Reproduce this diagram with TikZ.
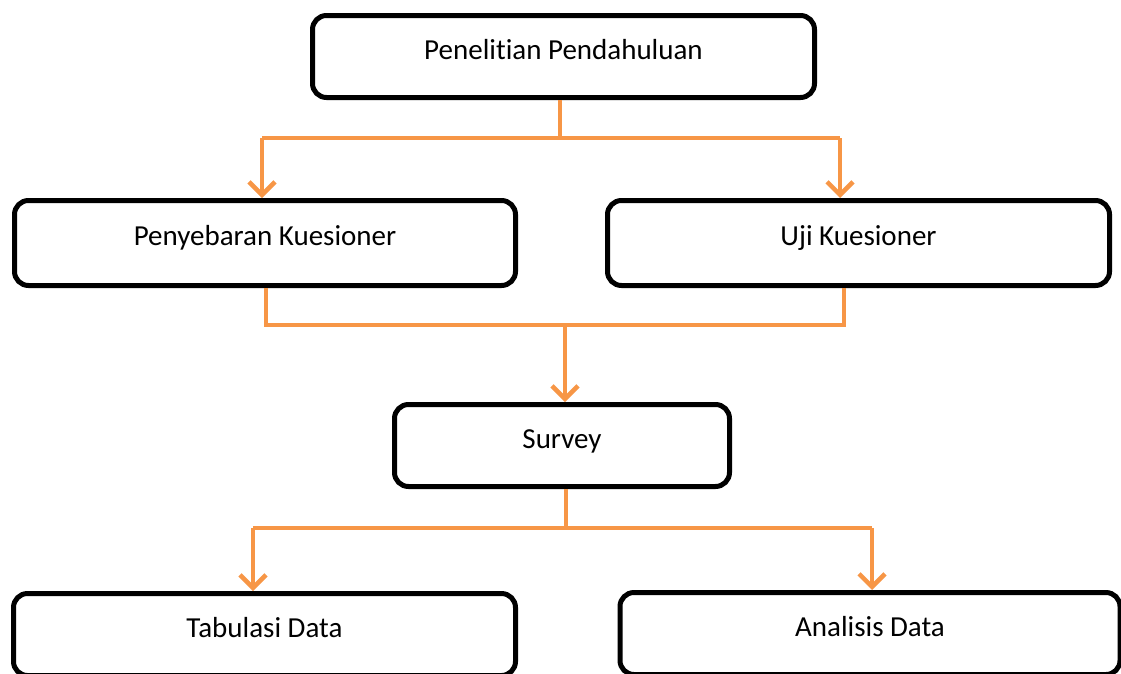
\documentclass[tikz,border=0pt]{standalone}
\usepackage{fontspec}
\setmainfont{Carlito}[RawFeature=-liga]
\usepackage{tikz}
\usetikzlibrary{arrows.meta}
\usetikzlibrary{positioning}
\definecolor{orangeline}{RGB}{247,150,70}

\begin{document}
\begin{tikzpicture}[x=1pt, y=-1pt,
  box/.style={draw=black, line width=5pt, rounded corners=14pt, fill=white,
              font=\fontsize{29}{35}\selectfont, text height=21pt, text depth=16pt,
              minimum height=82pt},
  conn/.style={draw=orangeline, line width=4.5pt},
  arr/.style={conn, -{Straight Barb[length=13pt, width=26pt, line width=4.5pt]}}]

\useasboundingbox (0,0) rectangle (1121,673);

%---------------------------------------
% Boxes
%---------------------------------------
\node[box, minimum width=502pt] (pp) at (563.5,56.5) {Penelitian Pendahuluan};
\node[box, minimum width=501pt, minimum height=85pt] (pk) at (265,243) {Penyebaran Kuesioner};
\node[box, minimum width=502pt, minimum height=85pt] (uk) at (858.5,243) {Uji Kuesioner};
\node[box, minimum width=335pt] (sv) at (562,445.5) {Survey};
\node[box, minimum width=502pt] (td) at (264.5,634.5) {Tabulasi Data};
\node[box, minimum width=500pt] (ad) at (870,633.5) {Analisis Data};

%---------------------------------------
% Junction points
%---------------------------------------
\coordinate (t0) at (262,138);
\coordinate (t1) at (560,138);
\coordinate (t2) at (840,138);

\coordinate (m0) at (266,325);
\coordinate (m1) at (565,325);
\coordinate (m2) at (844,325);

\coordinate (b0) at (253,528);
\coordinate (b1) at (566,528);
\coordinate (b2) at (872,528);

%---------------------------------------
% Connectors
%---------------------------------------
% Penelitian -> Penyebaran / Uji
\draw[conn] (pp.south -| t1) -- (t1);
\draw[conn] (t0) -- (t2);
\draw[arr] (t0) -- (t0 |- pk.north);
\draw[arr] (t2) -- (t2 |- uk.north);

% Penyebaran / Uji -> Survey
\draw[conn] (m0 |- pk.south) -- (m0) -- (m2) -- (m2 |- uk.south);
\draw[arr] (m1) -- (m1 |- sv.north);

% Survey -> Tabulasi / Analisis
\draw[conn] (sv.south -| b1) -- (b1);
\draw[conn] (b0) -- (b2);
\draw[arr] (b0) -- (b0 |- td.north);
\draw[arr] (b2) -- (b2 |- ad.north);

\end{tikzpicture}
\end{document}
